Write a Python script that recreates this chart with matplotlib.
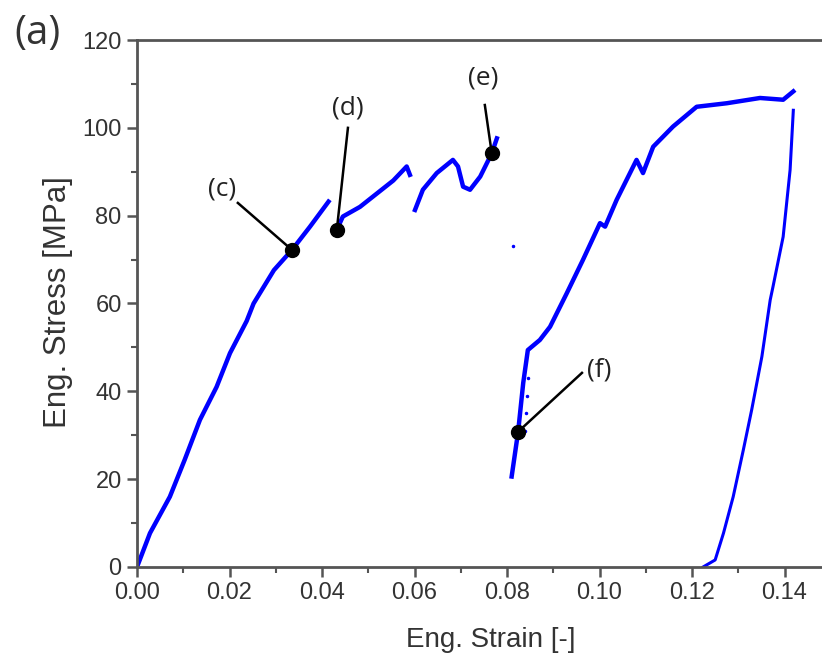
import numpy as np
import matplotlib.pyplot as plt
from matplotlib.ticker import MultipleLocator

# segmen kurva tegangan-regangan
e1 = [0.0, 0.0028, 0.0071, 0.0103, 0.0136, 0.0172, 0.0201, 0.0237, 0.0252, 0.0296, 0.0335, 0.0374, 0.0414]
s1 = [0.0, 7.7, 16.0, 24.4, 33.5, 41.0, 48.7, 56.0, 60.0, 67.6, 72.2, 77.5, 83.2]

e2 = [0.0432, 0.0445, 0.0482, 0.0518, 0.0554, 0.0583, 0.0590]
s2 = [76.8, 79.8, 82.0, 85.0, 88.0, 91.2, 89.3]

e3 = [0.0601, 0.0618, 0.0648, 0.0683, 0.0694, 0.0705, 0.0720, 0.0742, 0.0767, 0.0778]
s3 = [81.3, 85.9, 89.7, 92.7, 91.2, 86.6, 85.9, 88.9, 94.2, 97.6]

e_iso = [0.0813]
s_iso = [73.0]

e4 = [0.0810, 0.0824, 0.0835, 0.0845, 0.0871, 0.0893, 0.0929, 0.0964, 0.1001, 0.1012,
      0.1037, 0.1080, 0.1094, 0.1116, 0.1159, 0.1210, 0.1275, 0.1347, 0.1397, 0.1419]
s4 = [20.6, 30.8, 41.9, 49.4, 51.7, 54.7, 62.3, 69.9, 78.3, 77.5,
      83.6, 92.7, 89.7, 95.7, 100.3, 104.8, 105.6, 106.8, 106.4, 108.3]

# cabang titik-titik dekat (f)
e_br = [0.0838, 0.0841, 0.0843, 0.0846]
s_br = [31.0, 35.0, 39.0, 43.0]

# kurva unloading
e5 = [0.1419, 0.1412, 0.1397, 0.1375, 0.1369, 0.1351, 0.1329, 0.1311, 0.1289, 0.1268, 0.1250, 0.1224]
s5 = [104.0, 90.4, 75.2, 63.8, 60.8, 47.9, 35.8, 26.7, 16.0, 7.7, 1.6, 0.0]

# titik-titik yang ditandai
lbl = ["(c)", "(d)", "(e)", "(f)"]
e_mark = [0.0335, 0.0432, 0.0767, 0.0824]
s_mark = [72.2, 76.8, 94.2, 30.8]
e_txt = [0.0184, 0.0456, 0.0748, 0.1000]
s_txt = [86.0, 104.6, 111.4, 44.9]
e_lin = [0.0218, 0.0456, 0.0752, 0.0962]
s_lin = [82.9, 100.0, 105.2, 44.2]

plt.rcParams['font.family'] = ['Liberation Sans', 'DejaVu Sans']
fig = plt.figure(figsize=(8.22, 6.55), dpi=100)
ax = fig.add_axes([0.1667, 0.1344, 0.8333, 0.8045])

blue = "#0000ff"
ax.plot(e1, s1, "-", color=blue, lw=3.2)
ax.plot(e2, s2, "-", color=blue, lw=3.2)
ax.plot(e3, s3, "-", color=blue, lw=3.2)
ax.plot(e4, s4, "-", color=blue, lw=3.2)
ax.plot(e5, s5, "-", color=blue, lw=2.2)
ax.plot(e_br, s_br, ".", color=blue, ms=3)
ax.plot(e_iso, s_iso, ".", color=blue, ms=3)

for t, em, sm, et, st, el, sl in zip(lbl, e_mark, s_mark, e_txt, s_txt, e_lin, s_lin):
    ax.plot([el, em], [sl, sm], "-", color="black", lw=1.8)
    ax.plot(em, sm, "o", color="black", ms=10)
    ax.text(et, st, t, fontsize=19, ha="center", va="center", color="#222222",
            family=["Open Sans", "DejaVu Sans"])

ax.set_xlim(0, 0.1481)
ax.set_ylim(0, 120)
ax.xaxis.set_major_locator(MultipleLocator(0.02))
ax.xaxis.set_minor_locator(MultipleLocator(0.01))
ax.yaxis.set_major_locator(MultipleLocator(20))
ax.yaxis.set_minor_locator(MultipleLocator(10))
ax.xaxis.set_major_formatter(plt.FormatStrFormatter("%.2f"))

spine_c = "#555555"
for side in ["left", "bottom", "top"]:
    ax.spines[side].set_color(spine_c)
    ax.spines[side].set_linewidth(2)
ax.spines["right"].set_visible(False)
ax.tick_params(which="major", direction="out", length=7, width=1.8, color=spine_c,
               labelsize=17, labelcolor="#333333", pad=4)
ax.tick_params(which="minor", direction="out", length=4, width=1.5, color=spine_c)
ax.tick_params(top=False, right=False, which="both")

ax.set_xlabel("Eng. Strain [-]", fontsize=20, color="#333333", va="center")
ax.xaxis.set_label_coords(0.517, -0.138)
ax.set_ylabel("Eng. Stress [MPa]", fontsize=22.5, color="#333333", va="center")
ax.yaxis.set_label_coords(-0.115, 0.502)
fig.text(0.046, 0.948, "(a)", fontsize=29, ha="center", va="center", color="#333333",
         family=["Open Sans", "DejaVu Sans"])

plt.savefig("out.png", dpi=100)
